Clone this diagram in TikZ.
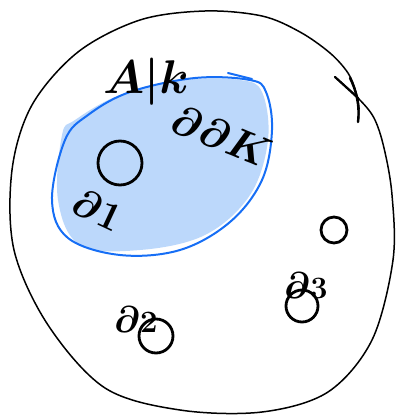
\documentclass[tikz,border=0pt]{standalone}
\usepackage{amssymb}
\usepackage{graphicx}
\begin{document}
\begin{tikzpicture}[x=1pt,y=-1pt,
  ink/.style={line width=2.8pt,black,line cap=round,line join=round},
  thin/.style={line width=1.5pt,black,line cap=round,line join=round},
  lbl/.style={font=\Huge\boldmath,inner sep=0pt}]
\definecolor{bfill}{RGB}{188,216,251}
\definecolor{bline}{RGB}{22,110,245}
\useasboundingbox (0,0) rectangle (396,417);
% outer blob (open, ends cross at top right)
\draw[thin] plot[smooth,tension=0.55] coordinates {(335,77) (358,98) (374,118) (384,148) (392,195) (393,260) (372,340) (328,392) (262,412) (180,410) (105,388) (48,325) (14,250) (12,170) (32,105) (78,52) (140,20) (205,11) (262,16) (300,32) (330,53) (348,73) (356,92) (359,108) (358,122)};
\draw[line width=2.2pt,line cap=round] (335,77) -- (358,98);
\draw[line width=2.4pt,line cap=round] (350,78) .. controls (356,90) and (360,105) .. (358,122);
% blue region fill
\fill[bfill] plot[smooth cycle,tension=0.6] coordinates {(62,135) (58,200) (80,245) (140,250) (205,235) (250,195) (268,140) (262,92) (240,80) (185,80) (120,95) (75,120)};
\draw[line width=2pt,bline] plot[smooth cycle,tension=0.6] coordinates {(65,140) (52,200) (68,238) (120,255) (180,250) (230,222) (262,180) (272,130) (266,92) (250,80) (195,78) (130,92) (88,115)};
\draw[line width=2pt,bline,line cap=round] (228,73) -- (252,79);
% circles
\node[ink,draw,circle,minimum size=44pt,inner sep=0pt] (c1) at (120,163) {};
\node[ink,draw,circle,minimum size=26pt,inner sep=0pt] (c2) at (334,230) {};
\node[ink,draw,circle,minimum size=32pt,inner sep=0pt] (c3) at (302,306) {};
\node[ink,draw,circle,minimum size=34pt,inner sep=0pt] (c4) at (156,336) {};
% labels
\node[lbl] (ak) at (146,82) {\scalebox{1.9}{$A|k$}};
\node[lbl,rotate=-22] (dk) at (222,136) {\scalebox{1.7}{$\partial\partial K$}};
\node[lbl,rotate=-25] (d1) at (98,210) {\scalebox{1.6}{$\partial 1$}};
\node[lbl,anchor=south west] (d2) at (114,333) {\scalebox{1.5}{$\partial{\scriptstyle 2}$}};
\node[lbl,anchor=south west] (d3) at (284,299) {\scalebox{1.5}{$\partial{\scriptstyle 3}$}};
\end{tikzpicture}
\end{document}
